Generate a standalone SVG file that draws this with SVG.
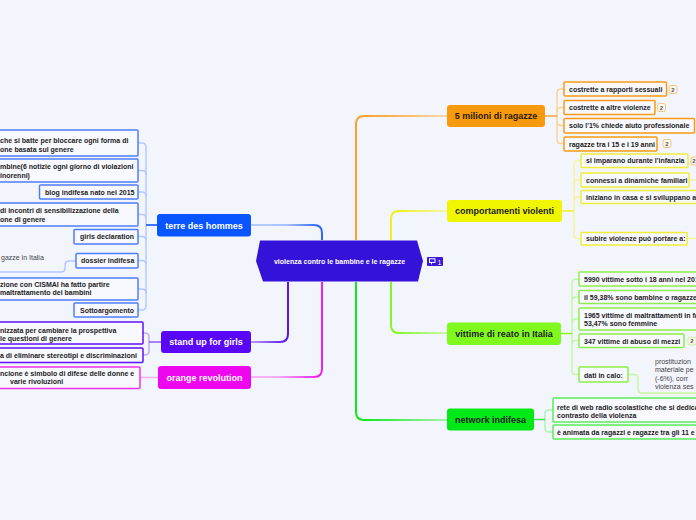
<svg xmlns="http://www.w3.org/2000/svg" width="696" height="520" viewBox="0 0 696 520">
<defs>
<style>
.bg{fill:#f3f5fd}
.t{font-family:"Liberation Sans",Arial,sans-serif;font-size:7px;font-weight:bold;fill:#222}
.tn{font-family:"Liberation Sans",Arial,sans-serif;font-size:9px;font-weight:bold;text-anchor:middle}
.note{font-family:"Liberation Sans",Arial,sans-serif;font-size:7px;fill:#444}
.box{fill:#f8f9fe;stroke-width:1.5}
.b-blue{stroke:#4d7dff}
.b-pur{stroke:#5f10ff}
.b-mag{stroke:#ee33ee}
.b-or{stroke:#fb9a14}
.b-ye{stroke:#eeee3a}
.b-li{stroke:#8cef4a}
.b-gr{stroke:#5aee5a}
.br{fill:none;stroke-width:1.5}
.main{fill:none;stroke-width:2}
.bdg{fill:#fffaf2;stroke:#f9c27a;stroke-width:1}
.bdgt{font-family:"Liberation Sans",Arial,sans-serif;font-size:6px;font-weight:bold;fill:#555;text-anchor:middle}
</style>
<linearGradient id="gOr" gradientUnits="userSpaceOnUse" x1="356" y1="0" x2="447" y2="0"><stop offset="0.1" stop-color="#f8a12e"/><stop offset="1" stop-color="#fcd7a6"/></linearGradient>
<linearGradient id="gYe" gradientUnits="userSpaceOnUse" x1="391" y1="0" x2="447" y2="0"><stop offset="0.1" stop-color="#eef020"/><stop offset="1" stop-color="#f6f7a8"/></linearGradient>
<linearGradient id="gLi" gradientUnits="userSpaceOnUse" x1="391" y1="0" x2="447" y2="0"><stop offset="0.1" stop-color="#84f626"/><stop offset="1" stop-color="#cafaa8"/></linearGradient>
<linearGradient id="gGr" gradientUnits="userSpaceOnUse" x1="356" y1="0" x2="447" y2="0"><stop offset="0.1" stop-color="#10e820"/><stop offset="1" stop-color="#a6f5ac"/></linearGradient>
<linearGradient id="gBl" gradientUnits="userSpaceOnUse" x1="322" y1="0" x2="251" y2="0"><stop offset="0.05" stop-color="#2f66ff"/><stop offset="0.5" stop-color="#a9c2ff"/><stop offset="1" stop-color="#b8ceff"/></linearGradient>
<linearGradient id="gPu" gradientUnits="userSpaceOnUse" x1="288" y1="0" x2="251" y2="0"><stop offset="0.05" stop-color="#5a14f0"/><stop offset="1" stop-color="#b99cf8"/></linearGradient>
<linearGradient id="gMa" gradientUnits="userSpaceOnUse" x1="322" y1="0" x2="251" y2="0"><stop offset="0.05" stop-color="#ee20ee"/><stop offset="0.6" stop-color="#f6a8f6"/><stop offset="1" stop-color="#f8b8f8"/></linearGradient>
</defs>
<rect class="bg" x="0" y="0" width="696" height="520"/>

<g id="connectors">
<path class="main" stroke="url(#gOr)" d="M356,240 V124 Q356,116 364,116 H447"/>
<path class="main" stroke="url(#gYe)" d="M391,240 V219 Q391,211 399,211 H447"/>
<path class="main" stroke="url(#gLi)" d="M391,282 V325 Q391,333 399,333 H447"/>
<path class="main" stroke="url(#gGr)" d="M356,282 V412 Q356,420 364,420 H447"/>
<path class="main" stroke="url(#gBl)" d="M322,240 V233 Q322,225 314,225 H251"/>
<path class="main" stroke="url(#gPu)" d="M288,282 V334 Q288,342 280,342 H251"/>
<path class="main" stroke="url(#gMa)" d="M322,282 V369 Q322,377 314,377 H251"/>

<g class="br" stroke="#b3c9ff">
<path d="M138,143 H142 Q146,143 146,147 V306 Q146,310 142,310 H138"/>
<path d="M138,170.5 H142 Q146,170.5 146,174.5"/>
<path d="M138,192 H142 Q146,192 146,196"/>
<path d="M138,214.5 H142 Q146,214.5 146,218.5"/>
<path d="M138,236.5 H142 Q146,236.5 146,240.5"/>
<path d="M138,260.5 H142 Q146,260.5 146,264.5"/>
<path d="M138,289 H142 Q146,289 146,293"/>
<path d="M76,261 H69 Q65,261 65,265 V268 Q65,272 61,272 H0"/>
</g>
<path d="M157,225 H146" stroke="#3f72ff" stroke-width="2" fill="none"/>
<g class="br" stroke="#c0a8fb">
<path d="M143,333 H145 Q149,333 149,337 V351 Q149,355 145,355 H143"/>
</g>
<path d="M161,342 H149" stroke="#8a5cf6" stroke-width="1.5" fill="none"/>
<path d="M140,377.5 H158" stroke="#f5b0f5" stroke-width="1.5" fill="none"/>

<g class="br" stroke="#fbd19a">
<path d="M564,89 H561 Q557,89 557,93 V139.5 Q557,143.5 561,143.5 H564"/>
<path d="M564,107.5 H561 Q557,107.5 557,111.5"/>
<path d="M564,125.5 H561 Q557,125.5 557,121.5"/>
</g>
<path d="M545,116 H557" stroke="#f8a12e" stroke-width="1.5" fill="none"/>
<g class="br" stroke="#f4f59c">
<path d="M581,160.5 H578 Q574,160.5 574,164.5 V234.5 Q574,238.5 578,238.5 H581"/>
<path d="M581,180 H578 Q574,180 574,184"/>
<path d="M581,197 H578 Q574,197 574,201"/>
<path d="M689,180 H696"/>
<path d="M687,238.5 H696"/>
</g>
<path d="M562,211 H574" stroke="#eef020" stroke-width="1.5" fill="none"/>
<g class="br" stroke="#c4f7a0">
<path d="M579,279 H576 Q572,279 572,283 V370.5 Q572,374.5 576,374.5 H579"/>
<path d="M579,297 H576 Q572,297 572,301"/>
<path d="M579,319 H576 Q572,319 572,323"/>
<path d="M579,340.5 H576 Q572,340.5 572,344.5"/>
<path d="M628,374.5 H634 Q638,374.5 638,378.5 V389 Q638,393 642,393 H696"/>
</g>
<path d="M561,333.5 H572" stroke="#84f626" stroke-width="1.5" fill="none"/>
<g class="br" stroke="#a8f4ac">
<path d="M553,410 H549 Q545,410 545,414 V428 Q545,432 549,432 H553"/>
</g>
<path d="M534,419.5 H545" stroke="#3eea4a" stroke-width="1.5" fill="none"/>
</g>

<g id="center">
<polygon points="256,261 260,240.5 417,240.5 423,261 418,281.5 263,281.5" fill="#3512d8"/>
<text x="339.5" y="264" class="t" style="fill:#fff" text-anchor="middle">violenza contro le bambine e le ragazze</text>
</g>
<g id="badge-1">
<rect x="427" y="257" width="16" height="9" rx="1" fill="#3a16d8"/>
<rect x="429.5" y="258.8" width="5.5" height="3.6" fill="none" stroke="#fff" stroke-width="1"/>
<path d="M431.5,262.4 V264.3" stroke="#fff" stroke-width="1"/>
<text x="439.5" y="264.6" style="font-family:'Liberation Sans',Arial,sans-serif;font-size:7px;fill:#fff" text-anchor="middle">1</text>
</g>

<g id="n-5milioni">
<rect x="447" y="105" width="98" height="22" rx="3" fill="#f99a0c"/>
<text x="496" y="119.3" class="tn" fill="#2a1a00">5 milioni di ragazze</text>
</g>
<g id="n-comportamenti">
<rect x="447" y="200" width="115" height="22" rx="3" fill="#f0f500"/>
<text x="504.5" y="214.3" class="tn" fill="#222">comportamenti violenti</text>
</g>
<g id="n-vittime">
<rect x="447" y="322.5" width="114" height="22.5" rx="3" fill="#80fa1e"/>
<text x="504" y="337" class="tn" fill="#222">vittime di reato in Italia</text>
</g>
<g id="n-network">
<rect x="447" y="408.5" width="87" height="22" rx="3" fill="#00e816"/>
<text x="490.5" y="422.8" class="tn" fill="#222">network indifesa</text>
</g>
<g id="n-terre">
<rect x="157" y="214" width="94" height="22.5" rx="3" fill="#0955ff"/>
<text x="204" y="228.6" class="tn" fill="#fff">terre des hommes</text>
</g>
<g id="n-standup">
<rect x="161" y="331" width="90" height="22" rx="3" fill="#5808f6"/>
<text x="206" y="345.3" class="tn" fill="#fff">stand up for girls</text>
</g>
<g id="n-orangerev">
<rect x="158" y="366" width="93" height="23" rx="3" fill="#ee06ee"/>
<text x="204.5" y="380.8" class="tn" fill="#fff">orange revolution</text>
</g>

<g id="c-terre-1"><rect class="box b-blue" x="-5" y="130" width="143" height="26" rx="1"/>
<text class="t" x="0" y="142.5">che si batte per bloccare ogni forma di</text>
<text class="t" x="0" y="151.5">one basata sul genere</text></g>
<g id="c-terre-2"><rect class="box b-blue" x="-5" y="159" width="143" height="23" rx="1"/>
<text class="t" x="0" y="169">mbine(6 notizie ogni giorno di violazioni</text>
<text class="t" x="0" y="177.5">inorenni)</text></g>
<g id="c-terre-3"><rect class="box b-blue" x="39.5" y="185" width="98.5" height="14" rx="1"/>
<text class="t" x="45" y="194.8">blog indifesa nato nel 2015</text></g>
<g id="c-terre-4"><rect class="box b-blue" x="-5" y="203" width="143" height="23" rx="1"/>
<text class="t" x="0" y="213">di incontri di sensibilizzazione della</text>
<text class="t" x="0" y="221.5">one di genere</text></g>
<g id="c-terre-5"><rect class="box b-blue" x="74" y="229.5" width="64" height="14.5" rx="1"/>
<text class="t" x="80" y="239">girls declaration</text></g>
<g id="c-terre-6"><rect class="box b-blue" x="76" y="253.5" width="62" height="14.5" rx="1"/>
<text class="t" x="81" y="263">dossier indifesa</text>
<text class="note" x="1" y="259.5">gazze in Italia</text></g>
<g id="c-terre-7"><rect class="box b-blue" x="-5" y="278" width="143" height="22" rx="1"/>
<text class="t" x="0" y="286.5">zione con CISMAI ha fatto partire</text>
<text class="t" x="0" y="294.5">maltrattamento dei bambini</text></g>
<g id="c-terre-8"><rect class="box b-blue" x="74" y="303" width="64" height="14" rx="1"/>
<text class="t" x="80" y="312.5">Sottoargomento</text></g>

<g id="c-standup-1"><rect class="box b-pur" x="-5" y="322" width="148" height="22" rx="1"/>
<text class="t" x="0" y="332.5">nizzata per cambiare la prospettiva</text>
<text class="t" x="0" y="340.5">le questioni di genere</text></g>
<g id="c-standup-2"><rect class="box b-pur" x="-5" y="348" width="148" height="14.5" rx="1"/>
<text class="t" x="0" y="358">a di eliminare stereotipi e discriminazioni</text></g>
<g id="c-orange-1"><rect class="box b-mag" x="-5" y="367" width="145" height="21.5" rx="1"/>
<text class="t" x="0" y="376">ncione è simbolo di difese delle donne e</text>
<text class="t" x="10" y="384">varie rivoluzioni</text></g>

<g id="c-5m-1"><rect class="box b-or" x="564" y="82" width="102.5" height="14" rx="1"/>
<text class="t" x="569" y="92">costrette a rapporti sessuali</text>
<rect class="bdg" x="669" y="85.5" width="8" height="8" rx="2"/><text class="bdgt" x="673" y="91.5">2</text></g>
<g id="c-5m-2"><rect class="box b-or" x="564" y="100.5" width="91" height="14" rx="1"/>
<text class="t" x="569" y="110.3">costrette a altre violenze</text>
<rect class="bdg" x="657.5" y="103.5" width="8" height="8" rx="2"/><text class="bdgt" x="661.5" y="109.5">2</text></g>
<g id="c-5m-3"><rect class="box b-or" x="564" y="118.5" width="130.5" height="14.5" rx="1"/>
<text class="t" x="569" y="128.4">solo l'1% chiede aiuto professionale</text></g>
<g id="c-5m-4"><rect class="box b-or" x="564" y="137" width="93" height="14" rx="1"/>
<text class="t" x="569" y="146.7">ragazze tra i 15 e i 19 anni</text>
<rect class="bdg" x="663" y="139.5" width="8" height="8" rx="2"/><text class="bdgt" x="667" y="145.5">2</text></g>

<g id="c-comp-1"><rect class="box b-ye" x="581" y="154" width="107" height="13.5" rx="1"/>
<text class="t" x="586" y="163.2">si imparano durante l'infanzia</text>
<rect class="bdg" x="691" y="157" width="8" height="8" rx="2"/><text class="bdgt" x="694" y="163">2</text></g>
<g id="c-comp-2"><rect class="box b-ye" x="581" y="173" width="108" height="14" rx="1"/>
<text class="t" x="586" y="182.7">connessi a dinamiche familiari</text></g>
<g id="c-comp-3"><rect class="box b-ye" x="581" y="190.5" width="125" height="13" rx="1"/>
<text class="t" x="586" y="199.8">iniziano in casa e si sviluppano a</text></g>
<g id="c-comp-4"><rect class="box b-ye" x="581" y="232.5" width="106" height="12.5" rx="1"/>
<text class="t" x="586" y="241.3">subire violenze può portare a:</text></g>

<g id="c-vit-1"><rect class="box b-li" x="579" y="272" width="125" height="14" rx="1"/>
<text class="t" x="584" y="281.8">5990 vittime sotto i 18 anni nel 201</text></g>
<g id="c-vit-2"><rect class="box b-li" x="579" y="290.5" width="125" height="13" rx="1"/>
<text class="t" x="584" y="300">il 59,38% sono bambine o ragazze</text></g>
<g id="c-vit-3"><rect class="box b-li" x="579" y="308" width="125" height="22" rx="1"/>
<text class="t" x="584" y="317.5">1965 vittime di maltrattamenti in fa</text>
<text class="t" x="584" y="325.8">53,47% sono femmine</text></g>
<g id="c-vit-4"><rect class="box b-li" x="579" y="334" width="105" height="13.5" rx="1"/>
<text class="t" x="584" y="343.7">347 vittime di abuso di mezzi</text>
<rect class="bdg" x="688" y="337" width="8" height="8" rx="2" style="stroke:#c8f0a0"/><text class="bdgt" x="692" y="343">2</text></g>
<g id="c-vit-5"><rect class="box b-li" x="579" y="367" width="49" height="15" rx="1"/>
<text class="t" x="584" y="377.5">dati in calo:</text>
<text class="note" x="655" y="363.5">prostituzion</text>
<text class="note" x="655" y="372">materiale pe</text>
<text class="note" x="655" y="380.5">(-6%), corr</text>
<text class="note" x="655" y="389">violenza ses</text></g>

<g id="c-net-1"><rect class="box b-gr" x="553" y="398" width="150" height="24" rx="1"/>
<text class="t" x="557" y="409.5">rete di web radio scolastiche che si dedica</text>
<text class="t" x="557" y="417.5">contrasto della violenza</text></g>
<g id="c-net-2"><rect class="box b-gr" x="553" y="425" width="150" height="14" rx="1"/>
<text class="t" x="557" y="435">è animata da ragazzi e ragazze tra gli 11 e</text></g>
</svg>
